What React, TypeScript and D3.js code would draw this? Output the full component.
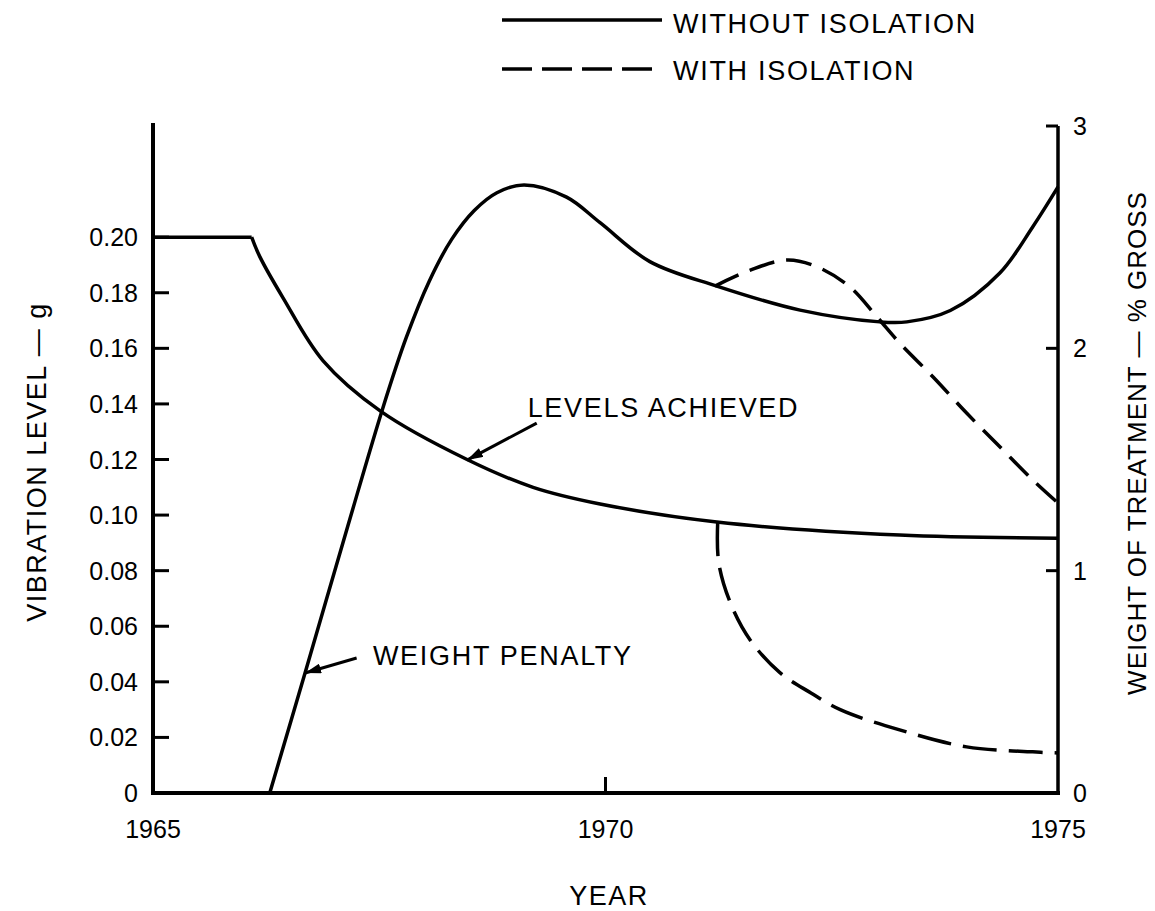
import * as d3 from 'd3';
import React, { useEffect, useRef } from 'react';

const yearTicks = [1965, 1970, 1975];
const vibTicks = [0, 0.02, 0.04, 0.06, 0.08, 0.1, 0.12, 0.14, 0.16, 0.18, 0.2];
const weightTicks = [0, 1, 2, 3];

// levels achieved (g, left axis)
const levelYears = [1965, 1966.09, 1966.18, 1966.44, 1966.88, 1967.51, 1968.47, 1969.2, 1969.94, 1971.23, 1973.25, 1975];
const levelValues = [0.2, 0.2, 0.193, 0.178, 0.1555, 0.1375, 0.12, 0.11, 0.104, 0.0975, 0.0928, 0.0917];

// levels with isolation (dashed)
const levelIsoYears = [1971.24, 1971.25, 1971.38, 1971.6, 1971.93, 1972.27, 1972.6, 1973.25, 1973.99, 1974.72, 1975];
const levelIsoValues = [0.0975, 0.0831, 0.0684, 0.055, 0.0432, 0.036, 0.0299, 0.0227, 0.0166, 0.0148, 0.0144];

// weight penalty (% gross, right axis)
const weightYears = [1966.29, 1966.68, 1967.14, 1967.54, 1967.8, 1968.05, 1968.3, 1968.55, 1968.8, 1969.1, 1969.57, 1969.94, 1970.49, 1971.23, 1972.15, 1973.03, 1973.33, 1973.81, 1974.36, 1974.72, 1975];
const weightValues = [0, 0.54, 1.183, 1.732, 2.05, 2.3, 2.49, 2.62, 2.7, 2.735, 2.68, 2.565, 2.39, 2.28, 2.172, 2.119, 2.119, 2.17, 2.34, 2.546, 2.726];

// weight with isolation (dashed)
const weightIsoYears = [1971.21, 1971.6, 1972.01, 1972.34, 1972.7, 1973.0, 1973.25, 1973.62, 1973.99, 1974.36, 1974.72, 1975];
const weightIsoValues = [2.28, 2.352, 2.397, 2.366, 2.276, 2.141, 2.024, 1.871, 1.709, 1.556, 1.408, 1.304];

const FONT = '"Liberation Sans", Arial, sans-serif';

const App: React.FC = () => {
  const ref = useRef<SVGSVGElement | null>(null);

  useEffect(() => {
    const width = 1155;
    const height = 911;
    const left = 153;
    const right = 1058;
    const bottom = 793;
    const top = 126;

    const svg = d3.select(ref.current)
      .attr('width', width)
      .attr('height', height);
    svg.selectAll('*').remove();

    const x = d3.scaleLinear().domain([1965, 1975]).range([left, right]);
    const yL = d3.scaleLinear().domain([0, 0.24]).range([bottom, top]);
    const yR = d3.scaleLinear().domain([0, 3]).range([bottom, top]);

    svg.append('defs').append('marker')
      .attr('id', 'arrow')
      .attr('markerUnits', 'userSpaceOnUse')
      .attr('markerWidth', 16)
      .attr('markerHeight', 10)
      .attr('refX', 16)
      .attr('refY', 5)
      .attr('orient', 'auto')
      .append('path')
      .attr('d', 'M0,0 L16,5 L0,10 Z')
      .attr('fill', 'black');

    const g = svg.append('g').attr('fill', 'none').attr('stroke', 'black');

    // axes
    g.append('line').attr('x1', left).attr('x2', left).attr('y1', top - 3).attr('y2', bottom).attr('stroke-width', 4);
    g.append('line').attr('x1', right).attr('x2', right).attr('y1', yR(3)).attr('y2', bottom).attr('stroke-width', 3.5);
    g.append('line').attr('x1', left - 2).attr('x2', right + 2).attr('y1', bottom).attr('y2', bottom).attr('stroke-width', 4);

    g.selectAll('.vt').data(vibTicks.filter(d => d > 0))
      .enter().append('line')
      .attr('x1', left).attr('x2', left + 16)
      .attr('y1', d => yL(d)).attr('y2', d => yL(d))
      .attr('stroke-width', 3);
    g.selectAll('.wt').data(weightTicks.filter(d => d > 0))
      .enter().append('line')
      .attr('x1', right).attr('x2', right - 12)
      .attr('y1', d => yR(d)).attr('y2', d => yR(d))
      .attr('stroke-width', 3);
    g.selectAll('.xt').data(yearTicks.slice(1, -1))
      .enter().append('line')
      .attr('x1', d => x(d)).attr('x2', d => x(d))
      .attr('y1', bottom).attr('y2', bottom - 16)
      .attr('stroke-width', 3);

    // curves
    const levelPts = levelYears.map((yr, i) => [x(yr), yL(levelValues[i])] as [number, number]);
    const levelIsoPts = levelIsoYears.map((yr, i) => [x(yr), yL(levelIsoValues[i])] as [number, number]);
    const weightPts = weightYears.map((yr, i) => [x(yr), yR(weightValues[i])] as [number, number]);
    const weightIsoPts = weightIsoYears.map((yr, i) => [x(yr), yR(weightIsoValues[i])] as [number, number]);

    const lin = d3.line();
    const cat = d3.line().curve(d3.curveCatmullRom.alpha(0.5));

    g.append('path').attr('d', lin(levelPts.slice(0, 2))).attr('stroke-width', 3.5);
    g.append('path').attr('d', cat(levelPts.slice(1))).attr('stroke-width', 3.5);
    g.append('path').attr('d', cat(levelIsoPts)).attr('stroke-width', 3.5).attr('stroke-dasharray', '34,12');
    g.append('path').attr('d', cat(weightPts)).attr('stroke-width', 3.5);
    g.append('path').attr('d', cat(weightIsoPts)).attr('stroke-width', 3.5).attr('stroke-dasharray', '26,12');

    // annotation arrows
    g.append('line')
      .attr('x1', x(1969.24)).attr('y1', yL(0.1331))
      .attr('x2', x(1968.47)).attr('y2', yL(0.1198))
      .attr('stroke-width', 3).attr('marker-end', 'url(#arrow)');
    g.append('line')
      .attr('x1', x(1967.25)).attr('y1', yR(0.607))
      .attr('x2', x(1966.68)).attr('y2', yR(0.54))
      .attr('stroke-width', 3).attr('marker-end', 'url(#arrow)');

    // legend
    g.append('line').attr('x1', 502).attr('x2', 662).attr('y1', 20).attr('y2', 20).attr('stroke-width', 3.5);
    g.append('line').attr('x1', 502).attr('x2', 662).attr('y1', 69).attr('y2', 69).attr('stroke-width', 3.5).attr('stroke-dasharray', '30,10');

    const t = svg.append('g').attr('font-family', FONT).attr('fill', 'black');

    t.selectAll('.vl').data(vibTicks)
      .enter().append('text')
      .attr('x', left - 15).attr('y', d => yL(d)).attr('dy', '0.36em')
      .attr('text-anchor', 'end').attr('font-size', 25)
      .text(d => (d === 0 ? '0' : d3.format('.2f')(d)));
    t.selectAll('.wl').data(weightTicks)
      .enter().append('text')
      .attr('x', right + 15).attr('y', d => yR(d)).attr('dy', '0.36em')
      .attr('font-size', 25)
      .text(d => String(d));
    t.selectAll('.xl').data(yearTicks)
      .enter().append('text')
      .attr('x', d => x(d)).attr('y', 838)
      .attr('text-anchor', 'middle').attr('font-size', 25)
      .text(d => String(d));

    t.append('text').attr('x', 609).attr('y', 905).attr('text-anchor', 'middle')
      .attr('font-size', 27).attr('letter-spacing', 1.5).text('YEAR');
    t.append('text')
      .attr('transform', 'translate(46,462) rotate(-90)')
      .attr('text-anchor', 'middle').attr('font-size', 27).attr('letter-spacing', 1.5)
      .text('VIBRATION LEVEL — g');
    t.append('text')
      .attr('transform', 'translate(1146,443) rotate(-90)')
      .attr('text-anchor', 'middle').attr('font-size', 26).attr('letter-spacing', 1)
      .text('WEIGHT OF TREATMENT — % GROSS');

    t.append('text').attr('x', x(1969.14)).attr('y', yL(0.1353))
      .attr('font-size', 27).attr('letter-spacing', 1.7).text('LEVELS ACHIEVED');
    t.append('text').attr('x', x(1967.43)).attr('y', yR(0.576))
      .attr('font-size', 27).attr('letter-spacing', 1.7).text('WEIGHT PENALTY');

    t.append('text').attr('x', 673).attr('y', 33).attr('font-size', 27).attr('letter-spacing', 1.7).text('WITHOUT ISOLATION');
    t.append('text').attr('x', 673).attr('y', 80).attr('font-size', 27).attr('letter-spacing', 1.7).text('WITH ISOLATION');
  }, []);

  return (
    <svg ref={ref} style={{ position: 'absolute', left: 0, top: 0, background: 'white' }}></svg>
  );
};

export default App;
